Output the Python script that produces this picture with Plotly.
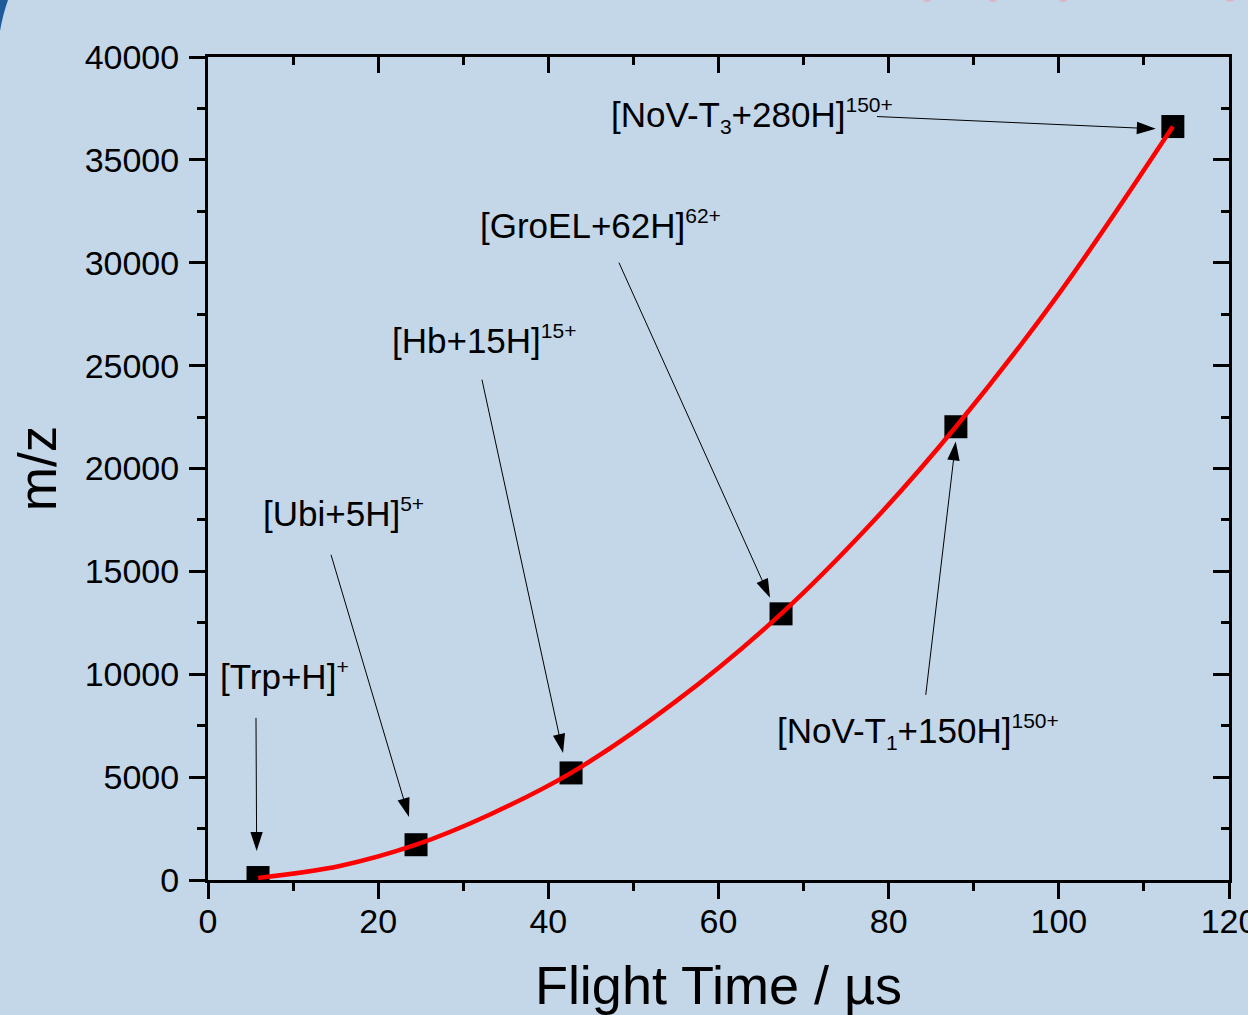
import plotly.graph_objects as go

# ---- data ----
flight_time = [5.88, 24.45, 42.67, 67.35, 87.9, 113.4]          # µs
mz_values = [120, 1714, 5204, 12936, 22030, 36620]               # m/z
SUP = "<sup><span style='font-size:21px'>{}</span></sup>"
ion_labels = [
    "[Trp+H]" + SUP.format("+"),
    "[Ubi+5H]" + SUP.format("5+"),
    "[Hb+15H]" + SUP.format("15+"),
    "[GroEL+62H]" + SUP.format("62+"),
    "[NoV-T<sub><span style='font-size:21px'>1</span></sub>+150H]" + SUP.format("150+"),
    "[NoV-T<sub><span style='font-size:21px'>3</span></sub>+280H]" + SUP.format("150+"),
]

# red calibration curve
fit_time = [5.9, 15.5, 24.45, 33.15, 42.67, 54.9, 67.35, 78, 87.9, 100, 113.4]
fit_mz = [100, 681, 1714, 3185, 5204, 8656, 12936, 17350, 22030, 28490, 36620]

# label anchor positions (data coords, left-middle of text)
label_x = [1.18, 6.23, 21.39, 31.73, 66.64, 47.13]
label_y = [9950, 17850, 26250, 31850, 7200, 37150]

# arrows: tail -> tip (data coords)
arrow_tail_x = [5.64, 14.46, 32.2, 48.3, 84.36, 78.63]
arrow_tail_y = [7878, 15805, 24316, 30006, 8997, 37106]
arrow_tip_x = [5.72, 23.62, 41.73, 66.06, 87.88, 111.4]
arrow_tip_y = [1410, 3064, 6176, 13714, 21316, 36508]

x_range = [0, 120]
y_range = [0, 40000]

BG = "#c3d7e8"
FONT = "Liberation Sans, Arial, sans-serif"

fig = go.Figure()

# data markers
fig.add_trace(go.Scatter(
    x=flight_time, y=mz_values, mode="markers",
    marker=dict(symbol="square", size=23, color="black", line=dict(width=0)),
    showlegend=False, hoverinfo="skip", cliponaxis=True,
))

# fit curve (on top of markers)
fig.add_trace(go.Scatter(
    x=fit_time, y=fit_mz, mode="lines",
    line=dict(color="#ff0000", width=4.5, shape="spline", smoothing=1.0),
    showlegend=False, hoverinfo="skip",
))

# arrows
for tx, ty, hx, hy in zip(arrow_tail_x, arrow_tail_y, arrow_tip_x, arrow_tip_y):
    fig.add_trace(go.Scatter(
        x=[tx, hx], y=[ty, hy], mode="lines+markers",
        line=dict(color="black", width=1),
        marker=dict(symbol=["circle", "arrow"], size=[0, 20], color="black",
                    angleref="previous", line=dict(width=0), opacity=1),
        showlegend=False, hoverinfo="skip", cliponaxis=False,
    ))

# invisible trace for the mirrored (top/right) tick axes
fig.add_trace(go.Scatter(x=[None], y=[None], xaxis="x2", yaxis="y2",
                         showlegend=False, hoverinfo="skip"))

# labels
for lx, ly, txt in zip(label_x, label_y, ion_labels):
    fig.add_annotation(x=lx, y=ly, text=txt, showarrow=False,
                       xanchor="left", yanchor="middle",
                       font=dict(family=FONT, size=35, color="black"))

axis_common = dict(
    showgrid=False, zeroline=False,
    linecolor="black", linewidth=3,
    tickcolor="black", tickwidth=2.5, ticklen=16,
    tickfont=dict(family=FONT, size=34, color="black"),
    ticklabeloverflow="allow",
    automargin=False,
)

fig.update_layout(
    width=1248, height=1015,
    margin=dict(l=208, r=19, t=57, b=135),
    paper_bgcolor=BG, plot_bgcolor=BG,
    font=dict(family=FONT, color="black"),
    xaxis=dict(
        range=x_range, dtick=20, ticks="outside", showline=True, mirror=True,
        tickformat="d",
        minor=dict(dtick=10, ticks="outside", ticklen=8, tickwidth=2.5, tickcolor="black"),
        title=dict(text="Flight Time / µs", font=dict(family=FONT, size=54), standoff=29),
        ticklabelstandoff=-7,
        **axis_common,
    ),
    yaxis=dict(
        range=y_range, dtick=5000, ticks="outside", showline=True, mirror=True,
        tickformat="d",
        minor=dict(dtick=2500, ticks="outside", ticklen=8, tickwidth=2.5, tickcolor="black"),
        title=dict(text="m/z", font=dict(family=FONT, size=53), standoff=12),
        ticklabelstandoff=3,
        **axis_common,
    ),
    xaxis2=dict(
        overlaying="x", side="top", range=x_range, dtick=20, ticks="inside",
        showticklabels=False, showline=False, showgrid=False, zeroline=False,
        tickcolor="black", tickwidth=2.5, ticklen=16, automargin=False,
        minor=dict(dtick=10, ticks="inside", ticklen=8, tickwidth=2.5, tickcolor="black"),
    ),
    yaxis2=dict(
        overlaying="y", side="right", range=y_range, dtick=5000, ticks="inside",
        showticklabels=False, showline=False, showgrid=False, zeroline=False,
        tickcolor="black", tickwidth=2.5, ticklen=16, automargin=False,
        minor=dict(dtick=2500, ticks="inside", ticklen=8, tickwidth=2.5, tickcolor="black"),
    ),
)

# decorative slide remnants: dark blue wedge top-left, faint pink dots at top edge
W_PLOT, H_PLOT = 1021.0, 823.0
def px(xp):
    return (xp - 208) / W_PLOT
def py(yp):
    return (880 - yp) / H_PLOT

fig.add_shape(type="path", xref="paper", yref="paper", layer="below",
              path=f"M{px(0)},{py(0)} L{px(8)},{py(0)} Q{px(3)},{py(14)} {px(0)},{py(31)} Z",
              fillcolor="#1d5b9a", line=dict(width=0))
for cx in [927, 993, 1063, 1230]:
    fig.add_shape(type="circle", xref="paper", yref="paper", layer="below",
                  x0=px(cx - 6), x1=px(cx + 6), y0=py(2), y1=py(-10),
                  fillcolor="#dcb6c6", line=dict(width=0))

fig.write_html("out.html")
